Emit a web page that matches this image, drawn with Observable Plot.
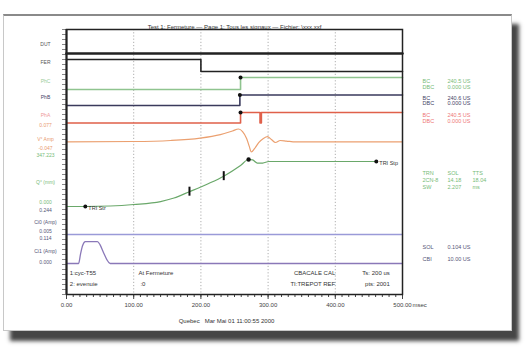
<!DOCTYPE html>
<html><head><meta charset="utf-8">
<script src="https://cdn.jsdelivr.net/npm/d3@7"></script>
<script src="https://cdn.jsdelivr.net/npm/@observablehq/plot@0.6"></script>
<style>
html,body{margin:0;padding:0;background:#fff;}
#wrap{position:relative;width:526px;height:354px;overflow:hidden;}
#card{position:absolute;left:3px;top:14px;width:507px;height:314px;background:#fff;border:1px solid #c8c8c8;border-top:2px solid #8a8a8a;box-shadow:7px 10px 4px rgba(50,50,50,0.9);}
#chart{position:absolute;left:0;top:0;}
</style></head><body>
<div id="wrap"><div id="card"></div><div id="chart"></div></div>
<script>
// ---- data (time in ms, values in channel units) ----
const tDUT = [0, 500];            const vDUT = [1, 1];
const tFER = [0, 200, 500];       const vFER = [1, 0, 0];
const tPhC = [0, 259, 500];       const vPhC = [0, 1, 1];
const tPhB = [0, 258, 500];       const vPhB = [0, 1, 1];
const tPhA = [0, 259, 288, 290, 500]; const vPhA = [0, 1, 0, 1, 1];
const tV = [0,100,155,199,229,247,256,262,268,272,275,280,286,293,299,305,311,318,327,341,363,500];
const vV = [0,0.0015,0.007,0.020,0.039,0.058,0.069,0.055,0.018,-0.025,-0.055,-0.036,-0.004,0.018,0.028,0.012,-0.004,0.007,0.004,-0.001,0,0];
const tQ = [0,28,65,100,140,160,183,210,234,259,271,277,284,292,301,318,461];
const vQ = [0,0,3.5,14,35,60,105,160,215,290,333,330,308,308,319,319,319];
const tCi0 = [0, 500];            const vCi0 = [0.005, 0.005];
const tCi1 = [0,18,21,24,28,46,50,55,60,65,500];
const vCi1 = [0,0,0.045,0.082,0.1,0.1,0.085,0.05,0.018,0,0];
const stepTimes = [259, 258, 259];          // PhC, PhB, PhA transitions
const qMarkTimes = [183, 234];              // tick markers on Q
const qMarkVals = [105, 215];
const qPeak = {t: 271, v: 333};
const triStr = {t: 28, v: 0, label: "TRI Str"};
const triStp = {t: 461, v: 319, label: "TRI Stp"};
const xTicks = [0, 100, 200, 300, 400, 500];
const gridTimes = [100, 200, 300, 400];

// ---- channel layout (display divisions) ----
const channels = {
  DUT:{vmin:0,vmax:1,lo:23.0,hi:24.1, line:"#222", lab:"#555", w:2.6},
  FER:{vmin:0,vmax:1,lo:22.3,hi:23.5, line:"#222", lab:"#555", w:1.6},
  PhC:{vmin:0,vmax:1,lo:20.5,hi:21.7, line:"#8fc48f", lab:"#9c9", w:1.6},
  PhB:{vmin:0,vmax:1,lo:18.9,hi:19.95, line:"#3a3a5c", lab:"#446", w:1.6},
  PhA:{vmin:0,vmax:1,lo:17.15,hi:18.2, line:"#e0604a", lab:"#e99", w:1.6},
  V:{vmin:-0.047,vmax:0.077,lo:14.4,hi:16.7, line:"#eba070", lab:"#e99a70", w:1.2},
  Q:{vmin:0,vmax:347.223,lo:8.8,hi:13.7, line:"#6aa86a", lab:"#7b7", w:1.2},
  Ci0:{vmin:0.005,vmax:0.244,lo:6.0,hi:8.4, line:"#9a9ad8", lab:"#557", w:1.3},
  Ci1:{vmin:0,vmax:0.114,lo:3.1,hi:5.6, line:"#8a78b8", lab:"#557", w:1.3}
};
const yOf = (ch, v) => { const c = channels[ch]; return c.lo + (v - c.vmin) / (c.vmax - c.vmin) * (c.hi - c.lo); };
const series = (ch, ts, vs) => ts.map((t, i) => ({t, y: yOf(ch, vs[i])}));

// ---- labels ----
const digitalLabels = [["DUT",25.0],["FER",23.2],["PhC",21.3],["PhB",19.7],["PhA",17.9]];
// [channel, max label, name, min label, max offset, min offset]
const analogLabels = [
  ["V","0.077","V° Amp","-0.047", 0.2, 0.2],
  ["Q","347.223","Q° (mm)","0.000", 0.2, 0.45],
  ["Ci0","0.244","Ci0 (Amp)","0.005", 0.0, 0.35],
  ["Ci1","0.114","Ci1 (Amp)","0.000", 0.0, 0.1]
];
const leftLabels = [];
digitalLabels.forEach(([ch, y]) => leftLabels.push({text: ch, y, color: channels[ch].lab}));
analogLabels.forEach(([ch, mx, nm, mn, omx, omn]) => {
  const c = channels[ch];
  leftLabels.push({text: mx, y: c.hi + omx, color: c.lab});
  leftLabels.push({text: nm, y: (c.lo + c.hi) / 2, color: c.lab});
  leftLabels.push({text: mn, y: c.lo + omn, color: c.lab});
});

const rightPanel = [
  {a:"BC",  b:"240.5 US", c:"", y:21.3, color:"#7b7"},
  {a:"DBC", b:"0.000 US", c:"", y:20.7, color:"#7b7"},
  {a:"BC",  b:"240.6 US", c:"", y:19.6, color:"#446"},
  {a:"DBC", b:"0.000 US", c:"", y:19.1, color:"#446"},
  {a:"BC",  b:"240.5 US", c:"", y:17.9, color:"#e77"},
  {a:"DBC", b:"0.000 US", c:"", y:17.3, color:"#e77"},
  {a:"TRN", b:"SOL", c:"TTS", y:12.1, color:"#7b7"},
  {a:"2CN-8", b:"14.18", c:"18.04", y:11.4, color:"#7b7"},
  {a:"SW", b:"2.207", c:"ms", y:10.7, color:"#7b7"},
  {a:"SOL", b:"0.104 US", c:"", y:4.7, color:"#557"},
  {a:"CBI", b:"10.00 US", c:"", y:3.5, color:"#557"}
];

const notes = [
  {s:"1:cyc-T55", t:5, row:2.1, end:false},
  {s:"2: evenuie", t:5, row:1.0, end:false},
  {s:"At Fermeture", t:107, row:2.1, end:false},
  {s:":0", t:110, row:1.0, end:false},
  {s:"CBACALE CAL", t:400, row:2.1, end:true},
  {s:"TI:TREPOT REF", t:400, row:1.0, end:true},
  {s:"Ts: 200 us", t:481, row:2.1, end:true},
  {s:"pts: 2001", t:481, row:1.0, end:true}
];
const title = "Test 1: Fermeture — Page 1: Tous les signaux — Fichier: \\xxx.xxf";
const footer = "Quebec   Mar Mai 01 11:00:55 2000";

// ---- marks ----
const traceMarks = [];
const traceDefs = [["DUT",tDUT,vDUT,"step-after"],["FER",tFER,vFER,"step-after"],["PhC",tPhC,vPhC,"step-after"],
  ["PhB",tPhB,vPhB,"step-after"],["PhA",tPhA,vPhA,"step-after"],["V",tV,vV,"monotone-x"],["Q",tQ,vQ,"monotone-x"],
  ["Ci0",tCi0,vCi0,"linear"],["Ci1",tCi1,vCi1,"monotone-x"]];
traceDefs.forEach(([ch, ts, vs, curve]) => {
  traceMarks.push(Plot.line(series(ch, ts, vs), {x:"t", y:"y", curve, stroke: channels[ch].line, strokeWidth: channels[ch].w}));
});
const stepDots = [["PhC",stepTimes[0]],["PhB",stepTimes[1]],["PhA",stepTimes[2]]].map(([ch,t]) => ({t, y: yOf(ch,1)}));
const qMarks = qMarkTimes.map((t,i) => ({t, y1: yOf("Q", qMarkVals[i]) - 0.45, y2: yOf("Q", qMarkVals[i]) + 0.45}));
const triPts = [triStr, triStp].map(d => ({t: d.t, y: yOf("Q", d.v), label: d.label}));
const peakPt = [{t: qPeak.t, y: yOf("Q", qPeak.v)}];

const font = "'Liberation Sans', Arial, sans-serif";
const chart = Plot.plot({
  width: 526, height: 354,
  marginTop: 29, marginBottom: 60, marginLeft: 66, marginRight: 124,
  style: {background: "transparent", fontFamily: font, fontSize: "6px", overflow: "visible"},
  x: {domain: [0, 500]},
  y: {domain: [0, 26.5]},
  color: {type: "identity"},
  marks: [
    Plot.ruleX(gridTimes, {stroke: "#9a9a9a", strokeDasharray: "1.2,2", strokeWidth: 0.8}),
    Plot.axisX({ticks: d3.range(0, 501, 10), tickSize: 3, tickFormat: () => "", label: null, stroke: "#444"}),
    Plot.axisX({ticks: xTicks, tickSize: 5, tickFormat: d => d.toFixed(2), tickPadding: 3, label: null, fontSize: 6, fill: "#444", stroke: "#444"}),
    Plot.axisY({ticks: d3.range(0, 26.6, 0.5), tickSize: 4, tickFormat: () => "", label: null, stroke: "#888"}),
    ...traceMarks,
    Plot.ruleX(qMarks, {x: "t", y1: "y1", y2: "y2", stroke: "#111", strokeWidth: 2}),
    Plot.dot(stepDots, {x: "t", y: "y", r: 2, fill: "#111"}),
    Plot.dot(peakPt, {x: "t", y: "y", r: 2.2, fill: "#111"}),
    Plot.dot(triPts, {x: "t", y: "y", r: 2, fill: "#111"}),
    Plot.text(triPts, {x: "t", y: "y", text: "label", textAnchor: "start", dx: 3, dy: 2, fill: "#333", fontSize: 5.5}),
    Plot.frame({stroke: "#222", strokeWidth: 1.5}),
    Plot.ruleX([0], {stroke: "#222", strokeWidth: 2}),
    Plot.text(leftLabels, {y: "y", text: "text", fill: "color", frameAnchor: "left", dx: -21, textAnchor: "middle", fontSize: 5}),
    Plot.text(rightPanel, {y: "y", text: "a", fill: "color", frameAnchor: "right", dx: 20, textAnchor: "start", fontSize: 5.5}),
    Plot.text(rightPanel, {y: "y", text: "b", fill: "color", frameAnchor: "right", dx: 45, textAnchor: "start", fontSize: 5.5}),
    Plot.text(rightPanel, {y: "y", text: "c", fill: "color", frameAnchor: "right", dx: 70, textAnchor: "start", fontSize: 5.5}),
    Plot.text(notes.filter(d => !d.end), {x: "t", y: "row", text: "s", textAnchor: "start", fill: "#333", fontSize: 6}),
    Plot.text(notes.filter(d => d.end), {x: "t", y: "row", text: "s", textAnchor: "end", fill: "#333", fontSize: 6}),
    Plot.text(["msec"], {frameAnchor: "bottom-right", dx: 10, dy: 12, textAnchor: "start", fill: "#444", fontSize: 6}),
    Plot.text([title], {frameAnchor: "top", dy: -5, fill: "#333", fontSize: 6}),
    Plot.text([footer], {frameAnchor: "bottom", dx: -8, dy: 28, fill: "#333", fontSize: 6})
  ]
});
document.getElementById("chart").appendChild(chart);
</script></body></html>
